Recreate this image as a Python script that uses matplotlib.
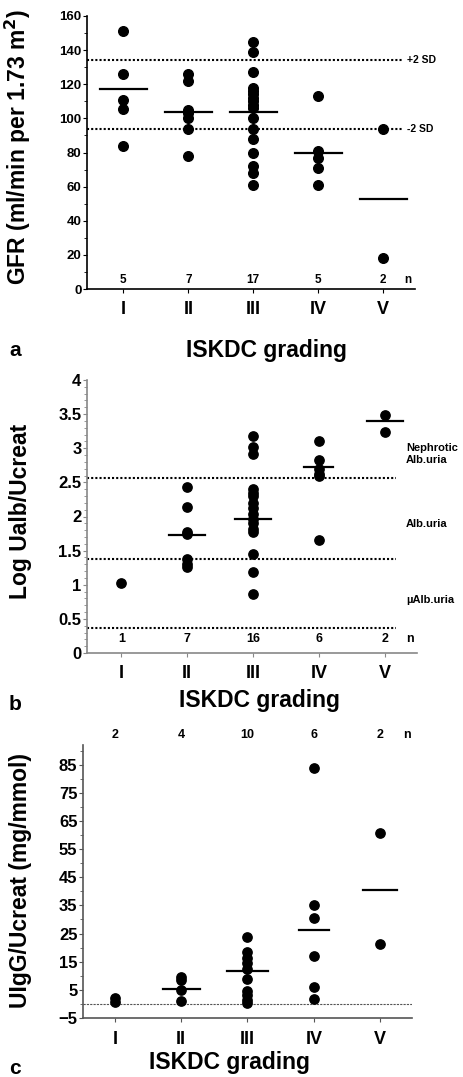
import matplotlib
matplotlib.use("Agg")
import matplotlib.pyplot as plt
import numpy as np
from matplotlib.ticker import MultipleLocator

matplotlib.rcParams['font.family'] = 'Liberation Sans'
matplotlib.rcParams['font.weight'] = 'bold'

grades = ['I', 'II', 'III', 'IV', 'V']

# a: GFR per grade
gfr = [
    [151, 126, 110.5, 105.5, 83.6],
    [126, 122, 105, 103, 100, 94, 78],
    [145, 139, 127, 118, 116, 114, 112, 110, 108, 106, 100, 94, 88, 80, 72, 68, 61],
    [113, 81, 77, 71, 61],
    [94, 18],
]
gfr_mean = [117, 104, 104, 80, 53]
gfr_n = [5, 7, 17, 5, 2]
gfr_sd = [134, 93.6]

# b: log albumin/creatinine
alb = [
    [1.02],
    [2.43, 2.14, 1.77, 1.74, 1.37, 1.30, 1.26],
    [3.18, 3.02, 2.91, 2.40, 2.35, 2.30, 2.20, 2.12, 2.04, 1.97, 1.90, 1.82, 1.77, 1.45, 1.18, 0.87],
    [3.11, 2.83, 2.70, 2.63, 2.59, 1.66],
    [3.48, 3.24],
]
alb_mean = [None, 1.73, 1.97, 2.73, 3.40]
alb_n = [1, 7, 16, 6, 2]
alb_cut = [2.56, 1.37, 0.37]

# c: IgG/creatinine
igg = [
    [2.2, 0.8],
    [9.5, 8.6, 4.8, 1.1],
    [23.9, 18.6, 16.3, 14.5, 12.5, 8.9, 4.5, 3.0, 1.5, 0.5],
    [84, 35, 30.4, 17.2, 6.0, 1.7],
    [60.8, 21.3],
]
igg_mean = [None, 5.4, 11.8, 26.1, 40.4]
igg_n = [2, 4, 10, 6, 2]

W, H = 464, 1077
fig = plt.figure(figsize=(W / 100, H / 100), dpi=100)


def box(l, t, r, b):
    return [l / W, 1 - b / H, (r - l) / W, (b - t) / H]


def style(ax, spine_col, tick_fs):
    for s in ['top', 'right']:
        ax.spines[s].set_visible(False)
    for s in ['left', 'bottom']:
        ax.spines[s].set_color(spine_col)
        ax.spines[s].set_linewidth(1.2)
    ax.set_xticks(range(1, 6))
    ax.set_xticklabels(grades, fontsize=13, fontweight='bold')
    ax.tick_params(axis='x', length=3, pad=6, color=spine_col)
    ax.tick_params(axis='y', which='major', length=3, pad=1, labelsize=tick_fs, color=spine_col)
    ax.tick_params(axis='y', which='minor', length=2, color=spine_col)
    for lbl in ax.get_yticklabels():
        lbl.set_fontweight('bold')


def dots(ax, groups, means, half, dot_s):
    for i, vals in enumerate(groups):
        x = i + 1
        ax.scatter([x] * len(vals), vals, s=dot_s, color='black', zorder=3, clip_on=False)
        if means[i] is not None:
            ax.plot([x - half[i], x + half[i]], [means[i], means[i]], color='black', lw=1.6, zorder=4)


# ---- panel a ----
ax1 = fig.add_axes(box(87, 16, 415, 289))
ax1.set_xlim(0.44, 5.49)
ax1.set_ylim(0, 160)
ax1.yaxis.set_major_locator(MultipleLocator(20))
ax1.yaxis.set_minor_locator(MultipleLocator(10))
for y in gfr_sd:
    ax1.plot([0.44, 5.3], [y, y], color='black', lw=1.5, ls=(0, (1, 1)), zorder=2)
ax1.text(5.36, gfr_sd[0], '+2 SD', fontsize=7.5, fontweight='bold', va='center')
ax1.text(5.36, gfr_sd[1], '-2 SD', fontsize=7.5, fontweight='bold', va='center')
dots(ax1, gfr, gfr_mean, [0.36] * 5, 48)
for i, n in enumerate(gfr_n):
    ax1.text(i + 1, 5.5, str(n), fontsize=8.5, fontweight='bold', ha='center', va='center')
ax1.text(5.38, 5.5, 'n', fontsize=8.5, fontweight='bold', ha='center', va='center')
style(ax1, 'black', 9.5)
ax1.set_ylabel('GFR (ml/min per 1.73 m$^\\mathbf{2}$)', fontsize=16.5, fontweight='bold')
ax1.yaxis.set_label_coords(-0.165, 0.52)
fig.text(267 / W, 1 - 350 / H, 'ISKDC grading', fontsize=16.5, fontweight='bold', ha='center', va='center')
fig.text(15 / W, 1 - 350 / H, 'a', fontsize=15, fontweight='bold', ha='center', va='center')

# ---- panel b ----
ax2 = fig.add_axes(box(87, 380, 417, 653))
ax2.set_xlim(0.48, 5.49)
ax2.set_ylim(0, 4)
ax2.yaxis.set_minor_locator(MultipleLocator(0.1))
ax2.set_yticks(np.arange(0, 4.01, 0.5))
ax2.set_yticklabels(['0', '0.5', '1', '1.5', '2', '2.5', '3', '3.5', '4'])
for y in alb_cut:
    ax2.plot([0.48, 5.17], [y, y], color='black', lw=1.5, ls=(0, (1, 1)), zorder=2)
ax2.text(5.32, 2.92, 'Nephrotic\nAlb.uria', fontsize=8, fontweight='bold', va='center', linespacing=1.2)
ax2.text(5.32, 1.89, 'Alb.uria', fontsize=8, fontweight='bold', va='center')
ax2.text(5.32, 0.78, '\u00b5Alb.uria', fontsize=8, fontweight='bold', va='center')
dots(ax2, alb, alb_mean, [0.27, 0.27, 0.27, 0.22, 0.27], 45)
for i, n in enumerate(alb_n):
    ax2.text(i + 1, 0.2, str(n), fontsize=9, fontweight='bold', ha='center', va='center')
ax2.text(5.38, 0.2, 'n', fontsize=9, fontweight='bold', ha='center', va='center')
style(ax2, '#888888', 12)
ax2.set_ylabel('Log Ualb/Ucreat', fontsize=16.5, fontweight='bold')
ax2.yaxis.set_label_coords(-0.167, 0.52)
fig.text(260 / W, 1 - 700 / H, 'ISKDC grading', fontsize=16.5, fontweight='bold', ha='center', va='center')
fig.text(15 / W, 1 - 704 / H, 'b', fontsize=15, fontweight='bold', ha='center', va='center')

# ---- panel c ----
ax3 = fig.add_axes(box(83, 745, 412, 1018))
ax3.set_xlim(0.52, 5.48)
ax3.set_ylim(-5, 92)
ax3.set_yticks(np.arange(-5, 86, 10))
ax3.yaxis.set_minor_locator(MultipleLocator(5))
ax3.axhline(0, color='#555555', lw=0.8, ls=(0, (2, 1)), zorder=2)
dots(ax3, igg, igg_mean, [0.28, 0.28, 0.31, 0.23, 0.26], 45)
for i, n in enumerate(igg_n):
    ax3.text(i + 1, 95.4, str(n), fontsize=9, fontweight='bold', ha='center', va='center', clip_on=False)
ax3.text(5.4, 95.4, 'n', fontsize=9, fontweight='bold', ha='center', va='center', clip_on=False)
style(ax3, '#555555', 12)
ax3.set_ylabel('UIgG/Ucreat (mg/mmol)', fontsize=16.5, fontweight='bold')
ax3.yaxis.set_label_coords(-0.155, 0.505)
fig.text(230 / W, 1 - 1063 / H, 'ISKDC grading', fontsize=16.5, fontweight='bold', ha='center', va='center')
fig.text(15 / W, 1 - 1068 / H, 'c', fontsize=15, fontweight='bold', ha='center', va='center')

fig.savefig('out.png', dpi=100)
